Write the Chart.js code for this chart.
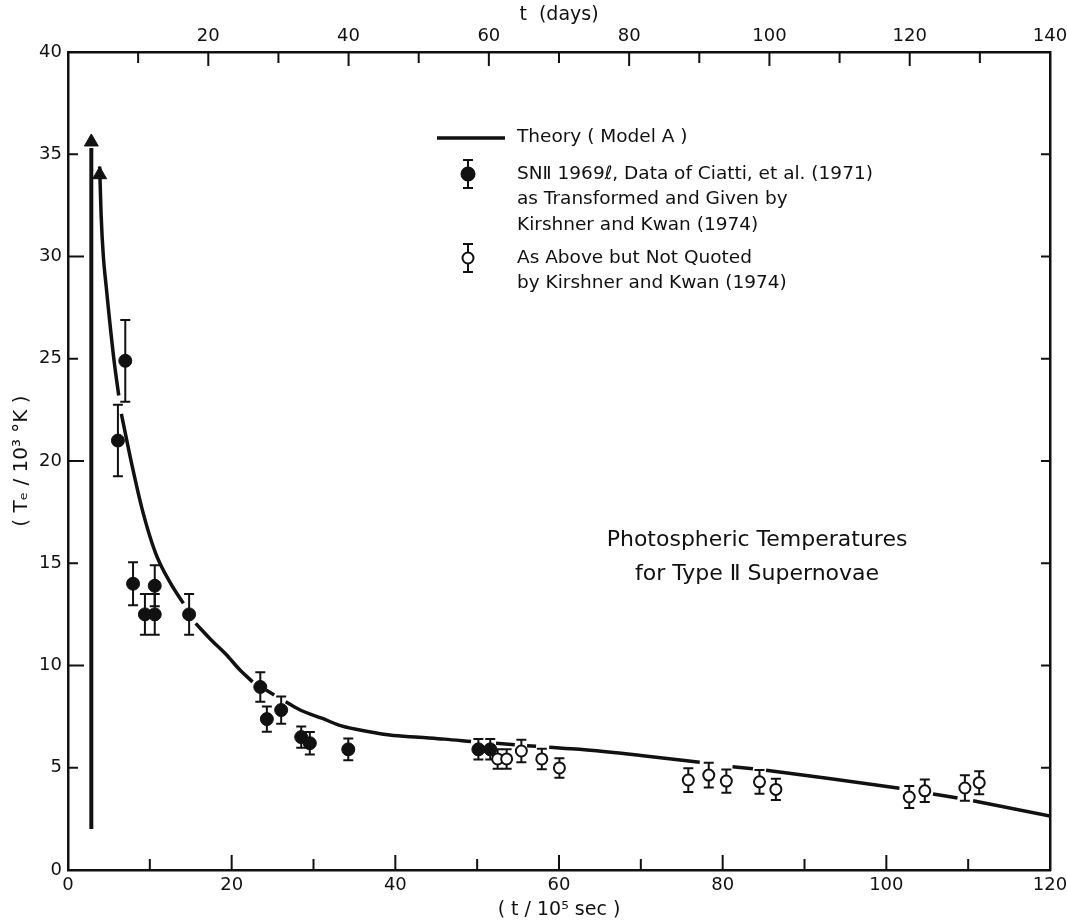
<!DOCTYPE html>
<html>
<head>
<meta charset="utf-8">
<script src="https://cdn.jsdelivr.net/npm/chart.js@4.4.1/dist/chart.umd.min.js"></script>
<style>
  html, body { margin: 0; padding: 0; background: #fff; }
  #wrap { width: 1067px; height: 924px; position: relative; }
</style>
</head>
<body>
<div id="wrap"><canvas id="tempChart"></canvas></div>
<script>
// tick labels
const bottomLabels = [0, 20, 40, 60, 80, 100, 120];
const topLabels = [20, 40, 60, 80, 100, 120, 140];
const leftLabels = [0, 5, 10, 15, 20, 25, 30, 35, 40];

// SN II 1969l, quoted by Kirshner and Kwan (filled)
const filledX = [6.1, 7.0, 7.95, 9.4, 10.6, 10.6, 14.8, 23.5, 24.3, 26.05, 28.5, 29.55, 34.25, 50.15, 51.6];
const filledY = [21.0, 24.9, 14.0, 12.5, 12.5, 13.9, 12.5, 8.95, 7.38, 7.82, 6.5, 6.2, 5.9, 5.9, 5.9];
const filledErr = [1.75, 2.0, 1.05, 1.0, 1.0, 1.0, 1.0, 0.72, 0.62, 0.67, 0.52, 0.55, 0.53, 0.5, 0.5];

// not quoted (open)
const openX = [52.5, 53.6, 55.4, 57.9, 60.05, 75.8, 78.3, 80.45, 84.5, 86.5, 102.8, 104.7, 109.6, 111.35];
const openY = [5.43, 5.43, 5.82, 5.43, 4.99, 4.4, 4.64, 4.35, 4.31, 3.94, 3.57, 3.87, 4.01, 4.27];
const openErr = [0.48, 0.48, 0.55, 0.5, 0.48, 0.58, 0.6, 0.57, 0.58, 0.52, 0.54, 0.55, 0.62, 0.56];

// theory curve, null = break in the drawn line
const theoryX = [3.87, 4.05, 4.32, 4.65, 5.0, 5.63, 6.2, 6.35, 6.52, 7.87, 9.09, 10.7, 12.56, 14.1, 14.8,
  15.6, 17.5, 19.3, 20.9, 22.55, 23.4, 24.2, 25.2, 25.9, 26.6, 28.5, 31.1, 33.0, 35.2, 39.3, 42.9, 46.0, 49.25, 50.8,
  52.3, 54.6, 55.3, 56.1, 57.2, 58.0, 58.8, 62.5, 70.0, 77.2, 79.2, 81.2, 83.7, 84.5, 85.3, 93.0, 101.6, 103.6,
  105.7, 108.7, 109.6, 110.6, 120.0];
const theoryY = [34.4, 32.0, 30.0, 28.6, 27.2, 24.9, 23.2, null, 22.3, 19.7, 17.6, 15.5, 14.0, 13.04, null,
  12.06, 11.25, 10.55, 9.83, 9.2, null, 8.8, 8.56, null, 8.23, 7.8, 7.41, 7.1, 6.88, 6.6, 6.49, 6.4, 6.28, null,
  6.2, 6.13, null, 6.08, 6.05, null, 6.0, 5.9, 5.6, 5.27, null, 5.05, 4.95, null, 4.88, 4.47, 4.0, null,
  3.72, 3.52, null, 3.39, 2.64];

// initial spike and the two arrow heads
const spikeX = [2.85, 2.85];
const spikeY = [2.0, 35.3];
const arrowX = [2.85, 3.87];
const arrowY = [35.6, 34.0];

const legendTheory = 'Theory ( Model A )';
const legendFilled = ['SN\u2161 1969\u2113, Data of Ciatti, et al. (1971)', 'as Transformed and Given by', 'Kirshner and Kwan (1974)'];
const legendOpen = ['As Above but Not Quoted', 'by Kirshner and Kwan (1974)'];
const plotNote = ['Photospheric Temperatures', 'for Type \u2161 Supernovae'];

const ink = '#111';
const fontFamily = '"DejaVu Sans", sans-serif';

const pts = (xs, ys) => xs.map((x, i) => ({ x: x, y: ys[i] }));

const errorBars = {
  id: 'errorBars',
  beforeDatasetsDraw(chart) {
    const ctx = chart.ctx;
    const xs = chart.scales.x, ys = chart.scales.y;
    ctx.save();
    ctx.strokeStyle = ink;
    ctx.lineWidth = 2;
    chart.data.datasets.forEach(ds => {
      if (!ds.errors) return;
      ds.data.forEach((p, i) => {
        const px = xs.getPixelForValue(p.x);
        const top = ys.getPixelForValue(p.y + ds.errors[i]);
        const bot = ys.getPixelForValue(p.y - ds.errors[i]);
        ctx.beginPath();
        ctx.moveTo(px, top); ctx.lineTo(px, bot);
        ctx.moveTo(px - 5, top); ctx.lineTo(px + 5, top);
        ctx.moveTo(px - 5, bot); ctx.lineTo(px + 5, bot);
        ctx.stroke();
      });
    });
    ctx.restore();
  }
};

const inwardTicks = {
  id: 'inwardTicks',
  afterDraw(chart) {
    const ctx = chart.ctx, a = chart.chartArea, s = chart.scales;
    ctx.save();
    ctx.strokeStyle = ink;
    ctx.lineWidth = 2;
    ctx.beginPath();
    s.x.ticks.forEach(t => {
      const p = s.x.getPixelForValue(t.value);
      const len = t.value % 20 === 0 ? 15 : 11;
      ctx.moveTo(p, a.bottom); ctx.lineTo(p, a.bottom - len);
    });
    s.x2.ticks.forEach(t => {
      const p = s.x2.getPixelForValue(t.value);
      const len = t.value % 20 === 0 ? 14 : 11;
      ctx.moveTo(p, a.top); ctx.lineTo(p, a.top + len);
    });
    s.y.ticks.forEach(t => {
      const p = s.y.getPixelForValue(t.value);
      const len = t.value % 10 === 0 ? 16 : 10;
      ctx.moveTo(a.left, p); ctx.lineTo(a.left + len, p);
    });
    s.y2.ticks.forEach(t => {
      const p = s.y2.getPixelForValue(t.value);
      ctx.moveTo(a.right, p); ctx.lineTo(a.right - 9, p);
    });
    ctx.stroke();
    ctx.restore();
  }
};

const notes = {
  id: 'notes',
  afterDraw(chart) {
    const ctx = chart.ctx, a = chart.chartArea;
    const xs = chart.scales.x, ys = chart.scales.y;
    ctx.save();
    ctx.fillStyle = ink;
    ctx.strokeStyle = ink;
    ctx.textBaseline = 'middle';

    // caption inside plot
    ctx.font = '22px ' + fontFamily;
    ctx.textAlign = 'center';
    ctx.fillText(plotNote[0], xs.getPixelForValue(84.2), ys.getPixelForValue(16.1));
    ctx.fillText(plotNote[1], xs.getPixelForValue(84.2), ys.getPixelForValue(14.45));

    // legend
    const lx = a.left + 369, tx = a.left + 449, mx = a.left + 400;
    ctx.textAlign = 'left';
    ctx.font = '18.5px ' + fontFamily;
    ctx.lineWidth = 3.5;
    ctx.beginPath(); ctx.moveTo(lx, a.top + 86); ctx.lineTo(lx + 68, a.top + 86); ctx.stroke();
    ctx.fillText(legendTheory, tx, a.top + 85);

    ctx.lineWidth = 2;
    const marker = (cy, filled) => {
      ctx.beginPath();
      ctx.moveTo(mx, cy - 14); ctx.lineTo(mx, cy + 14);
      ctx.moveTo(mx - 5, cy - 14); ctx.lineTo(mx + 5, cy - 14);
      ctx.moveTo(mx - 5, cy + 14); ctx.lineTo(mx + 5, cy + 14);
      ctx.stroke();
      ctx.beginPath();
      ctx.arc(mx, cy, filled ? 6.5 : 5.5, 0, Math.PI * 2);
      ctx.fillStyle = filled ? ink : '#fff';
      ctx.fill();
      ctx.stroke();
      ctx.fillStyle = ink;
    };
    marker(a.top + 122, true);
    legendFilled.forEach((t, i) => ctx.fillText(t, tx, a.top + 122 + i * 25.5));
    marker(a.top + 206, false);
    legendOpen.forEach((t, i) => ctx.fillText(t, tx, a.top + 206 + i * 25.5));
    ctx.restore();
  }
};

const tickFont = { family: fontFamily, size: 18 };
const titleFont = { family: fontFamily, size: 19 };
const fixPad = s => { s.paddingLeft = 0; s.paddingRight = 0; s.paddingTop = 0; s.paddingBottom = 0; };

const ctx = document.getElementById('tempChart').getContext('2d');
const tempChart = new Chart(ctx, {
  type: 'scatter',
  data: {
    datasets: [
      {
        label: 'Theory (Model A)',
        data: pts(theoryX, theoryY),
        showLine: true,
        spanGaps: false,
        borderColor: ink,
        borderWidth: 3.5,
        pointRadius: 0,
        cubicInterpolationMode: 'monotone',
      },
      {
        label: 'spike',
        data: pts(spikeX, spikeY),
        showLine: true,
        borderColor: ink,
        borderWidth: 4,
        pointRadius: 0,
      },
      {
        label: 'arrows',
        data: pts(arrowX, arrowY),
        pointStyle: 'triangle',
        pointRadius: 8,
        backgroundColor: ink,
        borderColor: ink,
        borderWidth: 1,
      },
      {
        label: 'SN II 1969l',
        data: pts(filledX, filledY),
        errors: filledErr,
        pointRadius: 6.5,
        backgroundColor: ink,
        borderColor: ink,
        borderWidth: 1,
      },
      {
        label: 'Not quoted',
        data: pts(openX, openY),
        errors: openErr,
        pointRadius: 5.5,
        backgroundColor: '#fff',
        borderColor: ink,
        borderWidth: 2,
      },
    ],
  },
  options: {
    responsive: true,
    maintainAspectRatio: false,
    animation: false,
    layout: { padding: 0 },
    plugins: {
      legend: { display: false },
      tooltip: { enabled: false },
    },
    scales: {
      x: {
        type: 'linear',
        position: 'bottom',
        min: 0,
        max: 120,
        afterFit: s => { s.height = 54; fixPad(s); },
        ticks: {
          stepSize: 10,
          color: ink,
          font: tickFont,
          padding: 5,
          maxRotation: 0,
          autoSkip: false,
          callback: v => (bottomLabels.includes(v) ? String(v) : ''),
        },
        grid: { display: false, drawTicks: false },
        border: { display: true, color: ink, width: 2.5 },
        title: { display: true, text: '( t / 10\u2075 sec )', color: ink, font: titleFont, padding: { top: 0, bottom: 3 } },
      },
      x2: {
        type: 'linear',
        position: 'top',
        min: 0,
        max: 140,
        afterFit: s => { s.height = 52; fixPad(s); },
        ticks: {
          stepSize: 10,
          color: ink,
          font: tickFont,
          padding: 5,
          maxRotation: 0,
          autoSkip: false,
          callback: v => (topLabels.includes(v) ? String(v) : ''),
        },
        grid: { display: false, drawTicks: false },
        border: { display: true, color: ink, width: 2.5 },
        title: { display: true, text: 't  (days)', color: ink, font: titleFont, padding: { top: 4, bottom: 0 } },
      },
      y: {
        type: 'linear',
        position: 'left',
        min: 0,
        max: 40,
        afterFit: s => { s.width = 68; fixPad(s); },
        ticks: {
          stepSize: 5,
          color: ink,
          font: tickFont,
          padding: 6,
          callback: v => (leftLabels.includes(v) ? String(v) : ''),
        },
        grid: { display: false, drawTicks: false },
        border: { display: true, color: ink, width: 2.5 },
        title: { display: true, text: '( T\u2091 / 10\u00b3 \u00b0K )', color: ink, font: { family: fontFamily, size: 20 }, padding: { top: 10, bottom: 0 } },
      },
      y2: {
        type: 'linear',
        position: 'right',
        min: 0,
        max: 40,
        afterFit: s => { s.width = 17; fixPad(s); },
        ticks: { stepSize: 5, display: false },
        grid: { display: false, drawTicks: false },
        border: { display: true, color: ink, width: 2.5 },
      },
    },
  },
  plugins: [errorBars, inwardTicks, notes],
});
</script>
</body>
</html>
